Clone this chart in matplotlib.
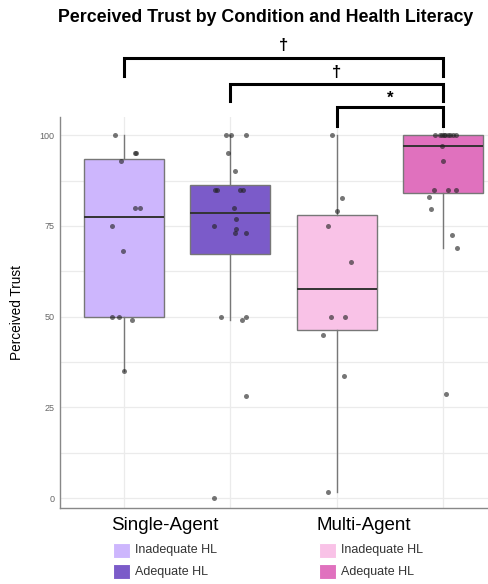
import numpy as np
import matplotlib
matplotlib.use("Agg")
import matplotlib.pyplot as plt
from matplotlib.patches import Rectangle

plt.rcParams['font.family'] = ['Liberation Sans', 'DejaVu Sans']

# values (jitter offsets as seen in the picture)
groups = ['Single-Agent', 'Multi-Agent']
hl_labels = ['Inadequate HL', 'Adequate HL']
colors = ['#CDB6FD', '#7B5BC9', '#F9C2E7', '#E071BE']

single_inadequate = [100, 93, 95, 95, 80, 80, 75, 68, 50, 50, 49, 35]
single_inadequate_jit = [-0.085, -0.03, 0.105, 0.11, 0.10, 0.155, -0.11, -0.01, -0.11, -0.05, 0.08, 0.0]

single_adequate = [100, 100, 100, 95, 90, 85, 85, 85, 85, 80, 77, 75, 74, 73, 73, 50, 50, 49, 28, 0]
single_adequate_jit = [-0.045, 0.01, 0.15, -0.02, 0.045, -0.145, -0.13, 0.095, 0.12, 0.03,
                       0.055, -0.15, 0.055, 0.04, 0.15, -0.09, 0.15, 0.11, 0.15, -0.15]

multi_inadequate = [100, 82.6, 79, 75, 65, 50, 50, 45, 33.5, 1.7]
multi_inadequate_jit = [-0.045, 0.05, 0.005, -0.08, 0.13, -0.05, 0.08, -0.13, 0.065, -0.08]

multi_adequate = [100, 100, 100, 100, 100, 100, 100, 100, 100, 97, 93, 85, 85, 85, 83, 79.7, 72.5, 69, 28.8]
multi_adequate_jit = [-0.075, -0.03, -0.01, 0.005, 0.02, 0.04, 0.065, 0.09, 0.115, -0.01,
                      0.0, -0.09, 0.04, 0.115, -0.13, -0.12, 0.08, 0.13, 0.03]

series = [single_inadequate, single_adequate, multi_inadequate, multi_adequate]
jitters = [single_inadequate_jit, single_adequate_jit, multi_inadequate_jit, multi_adequate_jit]

# significance brackets: (from box, to box, label)
comparisons = [(1, 4, '\u2020'), (2, 4, '\u2020'), (3, 4, '*')]

fig = plt.figure(figsize=(4.88, 5.84), dpi=100)
ax = fig.add_axes([60 / 488, 76 / 584, 428 / 488, 391 / 584])

positions = np.arange(1, 5)
bp = ax.boxplot(series, positions=positions, widths=0.75, patch_artist=True,
                showfliers=False, showcaps=False, whis=1.5, zorder=2,
                medianprops=dict(color='#333333', linewidth=1.4),
                whiskerprops=dict(color='#777777', linewidth=1.0),
                boxprops=dict(edgecolor='#777777', linewidth=1.0))
for patch, c in zip(bp['boxes'], colors):
    patch.set_facecolor(c)

for pos, vals, jit in zip(positions, series, jitters):
    ax.scatter(pos + np.array(jit), vals, s=13, color='#222222', alpha=0.62,
               linewidths=0, zorder=3)

ax.set_xlim(0.4, 4.42)
ax.set_ylim(-2.75, 105)
ax.set_yticks([0, 25, 50, 75, 100])
ax.set_yticks(np.arange(12.5, 100, 25), minor=True)
ax.set_xticks(positions)
ax.set_xticklabels([])
ax.tick_params(axis='both', which='both', length=0)
ax.tick_params(axis='y', labelsize=6.5, labelcolor='#666666', pad=4)
ax.grid(True, which='both', color='#EBEBEB', linewidth=0.9, zorder=0)
ax.set_axisbelow(True)
for s in ['top', 'right']:
    ax.spines[s].set_visible(False)
for s in ['left', 'bottom']:
    ax.spines[s].set_color('#888888')
    ax.spines[s].set_linewidth(1.0)
ax.set_ylabel('Perceived Trust', fontsize=9.8, labelpad=11)

# brackets above the panel
levels = [(121.3, 116.3, 124.8), (114.0, 109.4, 117.4), (107.8, 102.5, 110.2)]
for (a, b, lab), (top, foot, ty) in zip(comparisons, levels):
    ax.plot([a, a, b, b], [foot, top, top, foot], color='black', linewidth=2.2,
            solid_joinstyle='miter', clip_on=False)
    ax.text((a + b) / 2, ty, lab, ha='center', va='center', fontsize=12,
            fontweight='bold', clip_on=False)

fig.text(266 / 488, 1 - 17 / 584, 'Perceived Trust by Condition and Health Literacy',
         ha='center', va='center', fontsize=12.8, fontweight='bold')

# legend drawn as two columns under the panel
col_x = [113, 319]
for gi, g in enumerate(groups):
    x0 = col_x[gi]
    fig.text((x0 - 2) / 488, 1 - 525 / 584, g, ha='left', va='center', fontsize=13.5)
    for hi, lab in enumerate(hl_labels):
        yc = 550 + hi * 21.5
        fig.patches.append(Rectangle((x0 / 488, 1 - (yc + 7.5) / 584), 17 / 488, 15 / 584,
                                     transform=fig.transFigure, facecolor=colors[gi * 2 + hi],
                                     edgecolor='white', linewidth=0.8))
        fig.text((x0 + 22) / 488, 1 - yc / 584, lab, ha='left', va='center',
                 fontsize=9, color='#333333')

fig.savefig('out.png', dpi=100)
